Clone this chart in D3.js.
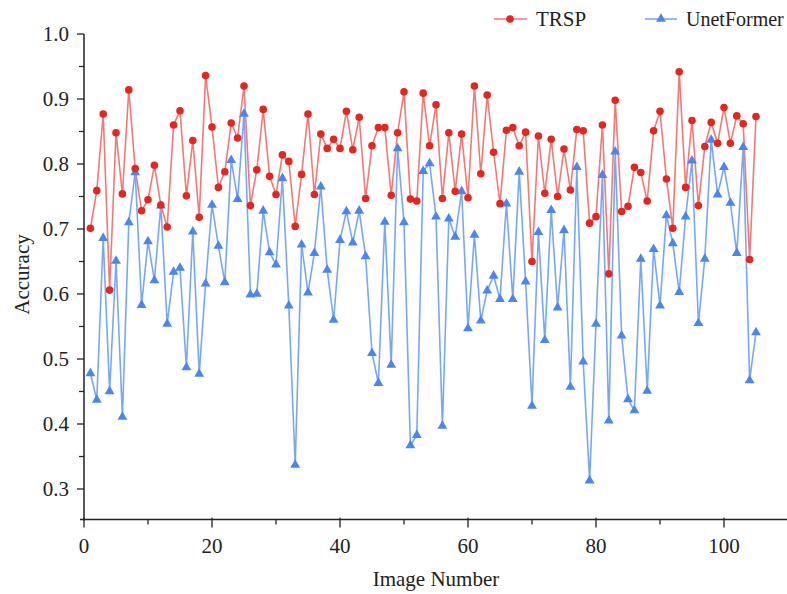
<!DOCTYPE html>
<html>
<head>
<meta charset="utf-8">
<script src="https://cdn.jsdelivr.net/npm/d3@7"></script>
<style>
  body { margin: 0; background: #fff; }
  text { font-family: 'Liberation Serif', 'Times New Roman', serif; fill: #222; }
</style>
</head>
<body>
<svg id="chart" width="787" height="594"></svg>
<script>
// accuracy per image (image 1..105)
const trsp = [
	0.701, 0.759, 0.877, 0.606, 0.848, 0.754, 0.914, 0.793, 0.728, 0.745,
	0.798, 0.737, 0.703, 0.860, 0.882, 0.751, 0.836, 0.718, 0.936, 0.857,
	0.764, 0.788, 0.863, 0.840, 0.920, 0.736, 0.791, 0.884, 0.781, 0.753,
	0.814, 0.804, 0.704, 0.784, 0.877, 0.753, 0.846, 0.824, 0.838, 0.824,
	0.881, 0.822, 0.872, 0.747, 0.828, 0.856, 0.856, 0.752, 0.848, 0.911,
	0.746, 0.743, 0.909, 0.828, 0.891, 0.747, 0.848, 0.758, 0.846, 0.748,
	0.920, 0.785, 0.906, 0.818, 0.739, 0.852, 0.856, 0.828, 0.849, 0.650,
	0.843, 0.755, 0.838, 0.750, 0.823, 0.760, 0.853, 0.851, 0.709, 0.719,
	0.860, 0.631, 0.898, 0.727, 0.735, 0.795, 0.787, 0.743, 0.851, 0.881,
	0.777, 0.701, 0.942, 0.764, 0.867, 0.736, 0.827, 0.864, 0.832, 0.887,
	0.832, 0.874, 0.862, 0.653, 0.873
];
const unetFormer = [
	0.478, 0.437, 0.686, 0.450, 0.651, 0.411, 0.710, 0.787, 0.583, 0.681,
	0.621, 0.736, 0.554, 0.634, 0.640, 0.487, 0.696, 0.477, 0.616, 0.737,
	0.674, 0.618, 0.806, 0.746, 0.877, 0.599, 0.600, 0.728, 0.664, 0.645,
	0.778, 0.582, 0.337, 0.676, 0.602, 0.663, 0.765, 0.637, 0.560, 0.683,
	0.727, 0.679, 0.728, 0.658, 0.509, 0.463, 0.711, 0.491, 0.824, 0.710,
	0.367, 0.383, 0.789, 0.801, 0.719, 0.397, 0.716, 0.688, 0.758, 0.547,
	0.691, 0.559, 0.605, 0.628, 0.592, 0.739, 0.592, 0.788, 0.619, 0.428,
	0.695, 0.529, 0.729, 0.579, 0.698, 0.457, 0.795, 0.496, 0.313, 0.554,
	0.783, 0.405, 0.819, 0.536, 0.438, 0.421, 0.654, 0.451, 0.669, 0.582,
	0.721, 0.678, 0.603, 0.719, 0.805, 0.555, 0.654, 0.837, 0.753, 0.795,
	0.740, 0.663, 0.826, 0.467, 0.541
];
const xTicks = [0, 20, 40, 60, 80, 100];
const xMinor = [10, 30, 50, 70, 90, 110];
const yTicks = [0.3, 0.4, 0.5, 0.6, 0.7, 0.8, 0.9, 1.0];
const yMinor = [0.35, 0.45, 0.55, 0.65, 0.75, 0.85, 0.95];

const svg = d3.select('#chart');

const x = d3.scaleLinear().domain([0, 110]).range([84, 788]);
const y = d3.scaleLinear().domain([0.3, 1.0]).range([489, 34]);
const yBottom = 0.253;

const redLine = '#f07a78', redDot = '#e3261f';
const blueLine = '#78a8f5', blueMark = '#4a86ee';

// axes
const xAxis = svg.append('g').attr('transform', 'translate(0,' + y(yBottom) + ')');
xAxis.append('line')
	.attr('x1', 80).attr('x2', x(110))
	.attr('stroke', '#222').attr('stroke-width', 1.5);
xAxis.selectAll('.maj').data(xTicks).enter().append('line')
	.attr('x1', (d) => x(d)).attr('x2', (d) => x(d))
	.attr('y1', -2).attr('y2', 8)
	.attr('stroke', '#222').attr('stroke-width', 1.3);
xAxis.selectAll('.min').data(xMinor).enter().append('line')
	.attr('x1', (d) => x(d)).attr('x2', (d) => x(d))
	.attr('y1', 0).attr('y2', 5)
	.attr('stroke', '#222').attr('stroke-width', 1.2);
xAxis.selectAll('.lbl').data(xTicks).enter().append('text')
	.attr('x', (d) => x(d)).attr('y', 33)
	.attr('text-anchor', 'middle')
	.style('font-size', '21px')
	.text((d) => d);

const yAxis = svg.append('g').attr('transform', 'translate(' + x(0) + ',0)');
yAxis.append('line')
	.attr('y1', y(1.0)).attr('y2', y(yBottom) + 1)
	.attr('stroke', '#222').attr('stroke-width', 1.5);
yAxis.selectAll('.maj').data(yTicks).enter().append('line')
	.attr('y1', (d) => y(d)).attr('y2', (d) => y(d))
	.attr('x1', -7).attr('x2', 0)
	.attr('stroke', '#222').attr('stroke-width', 1.3);
yAxis.selectAll('.min').data(yMinor).enter().append('line')
	.attr('y1', (d) => y(d)).attr('y2', (d) => y(d))
	.attr('x1', -5).attr('x2', 0)
	.attr('stroke', '#222').attr('stroke-width', 1.2);
yAxis.selectAll('.lbl').data(yTicks).enter().append('text')
	.attr('x', -15).attr('y', (d) => y(d))
	.attr('dy', '0.35em')
	.attr('text-anchor', 'end')
	.style('font-size', '21px')
	.text((d) => d.toFixed(1));

svg.append('text')
	.attr('x', x(55)).attr('y', 586)
	.attr('text-anchor', 'middle')
	.style('font-size', '21px')
	.text('Image Number');

svg.append('text')
	.attr('transform', 'translate(29,' + y(0.63) + ') rotate(-90)')
	.attr('text-anchor', 'middle')
	.style('font-size', '21px')
	.text('Accuracy');

// series
const line = d3.line()
	.x((d, i) => x(i + 1))
	.y((d) => y(d));

svg.append('path')
	.datum(trsp)
	.attr('d', line)
	.attr('fill', 'none')
	.attr('stroke', redLine)
	.attr('stroke-width', 1.6);

svg.append('path')
	.datum(unetFormer)
	.attr('d', line)
	.attr('fill', 'none')
	.attr('stroke', blueLine)
	.attr('stroke-width', 1.6);

const tri = d3.symbol().type(d3.symbolTriangle).size(42);

svg.append('g').selectAll('path')
	.data(unetFormer).enter().append('path')
	.attr('d', tri)
	.attr('transform', (d, i) => 'translate(' + x(i + 1) + ',' + y(d) + ')')
	.attr('fill', blueMark);

svg.append('g').selectAll('circle')
	.data(trsp).enter().append('circle')
	.attr('cx', (d, i) => x(i + 1))
	.attr('cy', (d) => y(d))
	.attr('r', 3.8)
	.attr('fill', redDot);

// legend
const legend = svg.append('g').attr('transform', 'translate(0,19)');
legend.append('line').attr('x1', 494).attr('x2', 527).attr('stroke', redLine).attr('stroke-width', 1.6);
legend.append('circle').attr('cx', 510).attr('cy', 0).attr('r', 3.8).attr('fill', redDot);
legend.append('text').attr('x', 536).attr('y', 0).attr('dy', '0.35em')
	.style('font-size', '21px').text('TRSP');
legend.append('line').attr('x1', 645).attr('x2', 677).attr('stroke', blueLine).attr('stroke-width', 1.6);
legend.append('path').attr('d', tri).attr('transform', 'translate(661,0)').attr('fill', blueMark);
legend.append('text').attr('x', 686).attr('y', 0).attr('dy', '0.35em')
	.style('font-size', '20px').text('UnetFormer');
</script>
</body>
</html>
